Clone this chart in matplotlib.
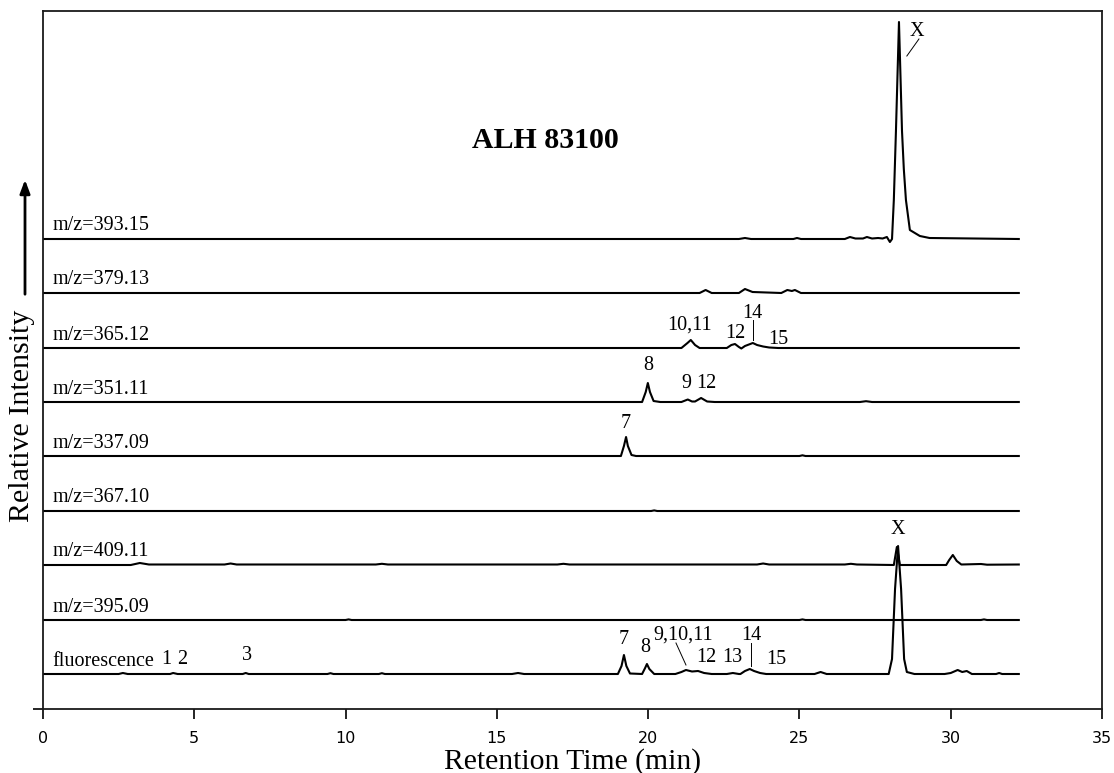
import matplotlib
matplotlib.use("Agg")
import matplotlib.pyplot as plt

# ---------------- data (retention time in min, relative intensity) ----------------
trace_names = ["fluorescence", "m/z=395.09", "m/z=409.11", "m/z=367.10", "m/z=337.09",
               "m/z=351.11", "m/z=365.12", "m/z=379.13", "m/z=393.15"]
trace_offsets = [35, 89, 144, 198, 253, 307, 361, 416, 470]

fl_t = [0, 2.5, 2.64, 2.8, 4.2, 4.3, 4.45, 6.6, 6.7, 6.8, 9.4, 9.5, 9.6, 11.1, 11.2, 11.3,
        15.5, 15.7, 15.9, 19.0, 19.12, 19.2, 19.28, 19.4, 19.8, 19.9, 19.96, 20.04, 20.2,
        20.9, 21.1, 21.25, 21.45, 21.65, 21.85, 22.1, 22.6, 22.8, 23.0, 23.05, 23.2, 23.36,
        23.5, 23.7, 23.9, 25.5, 25.7, 25.9, 27.95, 28.06, 28.16, 28.26, 28.36, 28.46, 28.55,
        28.8, 29.8, 30.0, 30.23, 30.38, 30.53, 30.7, 31.5, 31.6, 31.7, 32.25]
fl_y = [0, 0, 1, 0, 0, 1, 0, 0, 1, 0, 0, 0.8, 0, 0, 0.8, 0,
        0, 1, 0, 0, 8, 19, 8, 0.5, 0, 6, 10, 5, 0,
        0, 2, 4, 2.5, 3, 1, 0, 0, 1, 0, 0, 3, 5,
        3, 1, 0, 0, 2, 0, 0, 15, 85, 128, 85, 15, 2,
        0, 0, 1, 4, 2, 3, 0, 0, 1, 0, 0]

m395_t = [0, 10.0, 10.1, 10.2, 25.0, 25.1, 25.2, 31.0, 31.1, 31.2, 32.25]
m395_y = [0, 0, 0.6, 0, 0, 0.6, 0, 0, 0.6, 0, 0]

m409_t = [0, 2.9, 3.2, 3.5, 6.0, 6.2, 6.4, 11.0, 11.2, 11.4, 17.0, 17.2, 17.4, 23.6, 23.8,
          24.0, 26.5, 26.7, 26.9, 28.12, 28.22, 28.32, 29.85, 29.95, 30.07, 30.2, 30.35,
          31.0, 31.2, 32.25]
m409_y = [0, 0, 2, 0.5, 0.5, 1.5, 0.5, 0.5, 1.2, 0.5, 0.5, 1.2, 0.5, 0.5, 1.5,
          0.5, 0.5, 1.2, 0.5, 0, 18, 0, 0, 5, 10, 4, 0.5,
          1, 0.3, 0.5]

m367_t = [0, 20.1, 20.2, 20.3, 32.25]
m367_y = [0, 0, 0.6, 0, 0]

m337_t = [0, 19.1, 19.2, 19.27, 19.33, 19.45, 19.6, 25.0, 25.1, 25.2, 32.25]
m337_y = [0, 0, 10, 19, 10, 1, 0, 0, 0.7, 0, 0]

m351_t = [0, 19.8, 19.92, 19.99, 20.06, 20.18, 20.4, 21.1, 21.31, 21.45, 21.55, 21.75,
          21.95, 22.2, 27.0, 27.2, 27.4, 32.25]
m351_y = [0, 0, 10, 19, 10, 1, 0, 0, 2.5, 0.5, 0.5, 4,
          0.5, 0, 0, 0.8, 0, 0]

m365_t = [0, 21.1, 21.3, 21.41, 21.55, 21.7, 22.6, 22.75, 22.87, 23.0, 23.08, 23.2, 23.46,
          23.6, 23.8, 24.0, 24.3, 32.25]
m365_y = [0, 0, 5, 8, 3, 0, 0, 3, 4, 1, -0.5, 2, 5,
          3, 1.5, 0.5, 0, 0]

m379_t = [0, 21.7, 21.9, 22.1, 23.0, 23.2, 23.45, 24.4, 24.6, 24.75, 24.85, 25.05, 32.25]
m379_y = [0, 0, 3, 0, 0, 4, 1, 0, 3, 2, 3, 0, 0]

m393_t = [0, 23.0, 23.2, 23.4, 24.8, 24.92, 25.05, 26.5, 26.67, 26.85, 27.1, 27.23, 27.4,
          27.6, 27.75, 27.89, 27.99, 28.06, 28.12, 28.19, 28.29, 28.39, 28.45, 28.52,
          28.65, 28.98, 29.3, 32.25]
m393_y = [0, 0, 1, 0, 0, 1, 0, 0, 2, 0.5, 0.5, 2, 0.5,
          1, 0.5, 2, -3, 0, 39, 108, 217, 108, 70, 39,
          9, 3, 1, 0]

trace_times = [fl_t, m395_t, m409_t, m367_t, m337_t, m351_t, m365_t, m379_t, m393_t]
trace_vals = [fl_y, m395_y, m409_y, m367_y, m337_y, m351_y, m365_y, m379_y, m393_y]

# peak labels: (text, time, height)
peak_labels = [("1", 4.06, 49), ("2", 4.59, 49), ("3", 6.74, 53), ("7", 19.2, 70),
               ("8", 19.89, 62), ("9,10,11", 21.15, 74), ("12", 21.91, 52), ("13", 22.77, 52),
               ("14", 23.40, 74), ("15", 24.22, 50),
               ("X", 28.26, 179),
               ("7", 19.27, 286),
               ("8", 19.99, 344), ("9", 21.25, 326), ("12", 21.91, 326),
               ("10,11", 21.38, 384), ("12", 22.87, 376), ("14", 23.46, 396), ("15", 24.29, 370),
               ("X", 28.88, 677)]
# leader lines: (t0, y0, t1, y1)
leader_lines = [(20.92, 66, 21.25, 44), (23.40, 66, 23.40, 43),
                (23.46, 389, 23.46, 369), (28.95, 670, 28.55, 653)]

x_ticks = [0, 5, 10, 15, 20, 25, 30, 35]
title_text = "ALH 83100"

# ---------------- plot ----------------
W, H = 1114, 773
fig = plt.figure(figsize=(W / 100, H / 100), dpi=100)
ax = fig.add_axes([43 / W, 1 - 709 / H, (1102 - 43) / W, (709 - 11) / H])

serif = ["Liberation Serif", "DejaVu Serif"]

for name, off, tt, vv in zip(trace_names, trace_offsets, trace_times, trace_vals):
    ax.plot(tt, [off + v for v in vv], color="black", lw=1.5, solid_joinstyle="round")
    ax.text(0.30, off + 13, name, family=serif, fontsize=14.5, ha="left", va="center")

for txt, t, y in peak_labels:
    ax.text(t, y, txt, family=serif, fontsize=14.5, ha="center", va="center")

for t0, y0, t1, y1 in leader_lines:
    ax.plot([t0, t1], [y0, y1], color="black", lw=0.7)

ax.text(16.59, 569, title_text, family=serif, fontsize=21.5, fontweight="bold",
        ha="center", va="center")

ax.set_xlim(0, 35)
ax.set_ylim(0, 698)
ax.set_xticks(x_ticks)
ax.set_xticklabels([str(v) for v in x_ticks], fontsize=11.5, family="DejaVu Sans")
ax.set_yticks([0])
ax.set_yticklabels([""])
ax.tick_params(direction="out", length=7, width=1.2, pad=9)
for s in ax.spines.values():
    s.set_linewidth(1.3)
    s.set_color("#1a1a1a")

ax.set_xlabel("Retention Time (min)", family=serif, fontsize=21.3, labelpad=1)

fig.text(22 / W, 1 - 416 / H, "Relative Intensity", family=serif, fontsize=21.6,
         rotation=90, ha="center", va="center")
ax.annotate("", xy=(25 / W, 1 - 177 / H), xytext=(25 / W, 1 - 297 / H),
            xycoords="figure fraction", textcoords="figure fraction",
            arrowprops=dict(arrowstyle="-|>,head_length=0.8,head_width=0.3",
                            color="black", lw=2), annotation_clip=False)

fig.savefig("out.png", dpi=100)
